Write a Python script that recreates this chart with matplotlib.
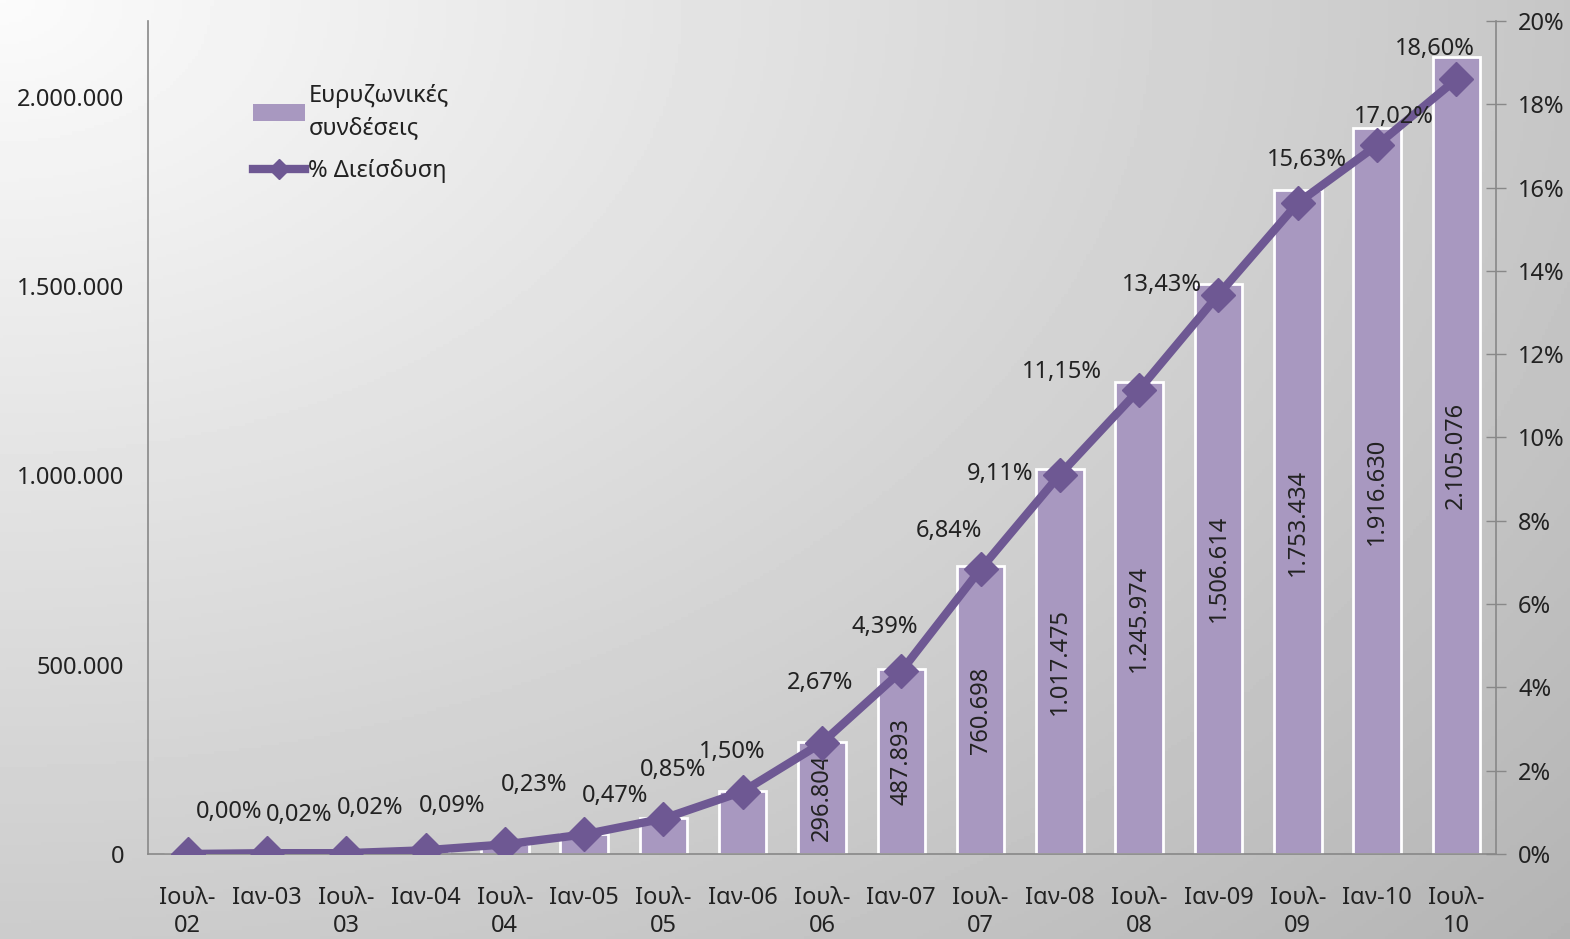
import numpy as np
import matplotlib
matplotlib.use('Agg')
import matplotlib.pyplot as plt
from matplotlib.lines import Line2D
from matplotlib.patches import Patch

plt.rcParams['font.family'] = ['Noto Sans', 'DejaVu Sans']

# data
periods = ['Ιουλ-\n02', 'Ιαν-03', 'Ιουλ-\n03', 'Ιαν-04', 'Ιουλ-\n04', 'Ιαν-05', 'Ιουλ-\n05',
           'Ιαν-06', 'Ιουλ-\n06', 'Ιαν-07', 'Ιουλ-\n07', 'Ιαν-08', 'Ιουλ-\n08', 'Ιαν-09',
           'Ιουλ-\n09', 'Ιαν-10', 'Ιουλ-\n10']
connections = [300, 2200, 2300, 10000, 25500, 52000, 94000, 166000, 296804, 487893,
               760698, 1017475, 1245974, 1506614, 1753434, 1916630, 2105076]
penetration = [0.00, 0.02, 0.02, 0.09, 0.23, 0.47, 0.85, 1.50, 2.67, 4.39, 6.84,
               9.11, 11.15, 13.43, 15.63, 17.02, 18.60]
labelled_bars = 8  # bar values written from this index on

# label placement (pixels relative to marker)
pct_dx = [41, 32, 24, 27, 29, 31, 10, -11, -2, -17, -32, -60, -77, -57, 9, 17, -21]
pct_dy = [42, 38, 45, 44, 59, 38, 49, 40, 60, 44, 38, 1, 18, 10, 43, 28, 30]

bar_color = '#a898c0'
line_color = '#6e5893'
text_color = '#222222'

W, H = 1570, 939
fig = plt.figure(figsize=(W / 100, H / 100), dpi=100)

# background gradient
bg = fig.add_axes([0, 0, 1, 1], zorder=-10)
yy, xx = np.mgrid[0:1:300j, 0:1:500j]
r = np.sqrt(xx ** 2 + (yy * 0.9) ** 2) / np.sqrt(1 + 0.81)
grad = 0.985 - 0.28 * r
bg.imshow(grad, cmap='gray', vmin=0, vmax=1, aspect='auto', extent=[0, 1, 1, 0])
bg.axis('off')

ax = fig.add_axes([148 / W, (H - 854) / H, 1348 / W, 833 / H])
ax.patch.set_alpha(0)
x = np.arange(len(periods))
ax.bar(x, connections, width=0.6, color=bar_color, edgecolor='white', linewidth=2, zorder=2)
ax.set_xlim(-0.5, len(periods) - 0.5)
ax.set_ylim(0, 2200000)
ax.set_yticks([0, 500000, 1000000, 1500000, 2000000])
ax.set_yticklabels(['0', '500.000', '1.000.000', '1.500.000', '2.000.000'])
ax.set_xticks(x)
ax.set_xticklabels(periods, linespacing=1.2)
ax.tick_params(axis='both', length=0, labelsize=17, colors=text_color)
ax.tick_params(axis='x', pad=23)
ax.tick_params(axis='y', pad=17)
for s in ['top', 'right']:
    ax.spines[s].set_visible(False)
for s in ['left', 'bottom']:
    ax.spines[s].set_color('#888888')
    ax.spines[s].set_linewidth(1.2)

for i in range(labelled_bars, len(connections)):
    v = connections[i]
    txt = f'{v:,}'.replace(',', '.')
    ax.text(x[i], v / 2, txt, rotation=90, ha='center', va='center',
            fontsize=17, color=text_color, zorder=3)

ax2 = ax.twinx()
ax2.plot(x, penetration, color=line_color, linewidth=6, marker='D', markersize=17,
         zorder=5)
ax2.set_ylim(0, 20)
ax2.set_yticks(range(0, 21, 2))
ax2.set_yticklabels([f'{t}%' for t in range(0, 21, 2)])
ax2.tick_params(axis='y', direction='inout', length=14, width=1, color='#888888',
                labelsize=17, labelcolor=text_color, pad=9)
for s in ['top', 'left', 'bottom']:
    ax2.spines[s].set_visible(False)
ax2.spines['right'].set_color('#888888')
ax2.spines['right'].set_linewidth(1.2)

for i, p in enumerate(penetration):
    ax2.annotate(f'{p:.2f}%'.replace('.', ','), (x[i], p),
                 xytext=(pct_dx[i], pct_dy[i]), textcoords='offset pixels',
                 ha='center', va='center', fontsize=17, color=text_color, zorder=6)

handles = [Patch(facecolor=bar_color, edgecolor='none'),
           Line2D([0], [0], color=line_color, linewidth=6, marker='D', markersize=10)]
leg = ax2.legend(handles, ['Ευρυζωνικές\nσυνδέσεις', '% Διείσδυση'], loc='upper left',
                 bbox_to_anchor=(0.062, 0.95), frameon=False, fontsize=17,
                 handlelength=2.2, handletextpad=0.15, labelspacing=0.8,
                 labelcolor=text_color)
for t in leg.get_texts():
    t.set_linespacing(1.45)

fig.savefig('out.png', dpi=100)
